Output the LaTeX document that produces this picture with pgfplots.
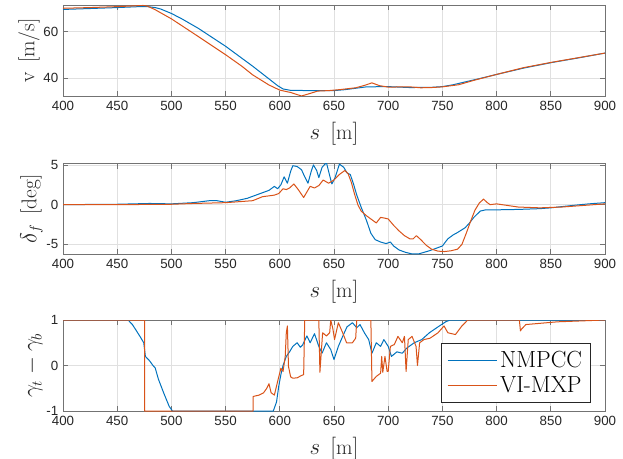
\documentclass[border=0pt]{standalone}
\usepackage{pgfplots}
\pgfplotsset{compat=1.18}
\usepackage{fontspec}
\newfontfamily\tickfont{Liberation Sans}
\definecolor{mblue}{rgb}{0,0.447,0.741}
\definecolor{morange}{rgb}{0.85,0.325,0.098}
\definecolor{maxis}{rgb}{0.15,0.15,0.15}
\pgfplotsset{
  mstyle/.style={
    scale only axis, width=406.5pt, height=68.25pt,
    anchor=north west,
    xmin=400, xmax=900, xtick={400,450,...,900},
    grid=major, major grid style={draw=black!12, line width=0.6pt},
    axis line style={draw=black!55, line width=0.6pt},
    tick style={draw=black!55, line width=0.6pt}, major tick length=4pt,
    tick label style={font=\tickfont\fontsize{10}{12}\selectfont, text=maxis},
    /pgf/number format/assume math mode=true,
    label style={font=\fontsize{16}{19}\selectfont, text=maxis},
    xlabel={$s\;\,[\mathrm{m}]$},
    xlabel style={yshift=-2pt},
    ylabel style={yshift=-4pt},
    every axis plot/.append style={line width=0.75pt, line join=round},
    scaled y ticks=false,
  }
}
\begin{document}
\begin{tikzpicture}
\useasboundingbox (0,0) rectangle (467.25pt,-344.25pt);
\begin{axis}[mstyle, at={(47.25pt,-3.75pt)}, ymin=32.5, ymax=71.3, ytick={40,60},
  ylabel={v\;\,[m/s]}]
\addplot[mblue] coordinates {(400,69.4)(425,69.8)(450,70.2)(470,70.6)(478,70.6)(485,70.2)(490,69.6)(500,67.7)(510,65.3)(525,61.3)(550,53.7)(575,45.2)(590,39.8)(598,36.9)(603,35.5)(610,34.9)(630,34.8)(650,34.8)(660,35.2)(670,35.8)(680,36.4)(700,36.5)(720,36.1)(740,36.2)(750,36.5)(760,37.3)(770,38.4)(785,40)(800,41.7)(825,44.4)(850,46.7)(875,48.7)(900,50.8)};
\addplot[morange] coordinates {(400,69.9)(425,70.2)(450,70.6)(474,71.1)(478,70.8)(485,69.3)(500,65.4)(525,57.8)(550,50.1)(565,45.2)(575,41.5)(590,37.2)(600,35.0)(610,34.0)(620,32.5)(628,33.6)(635,34.6)(645,34.8)(655,35.2)(670,36)(678,37)(685,38.1)(692,36.9)(700,36.3)(720,36.4)(730,36)(740,36.1)(750,36.4)(765,37.3)(780,39.3)(800,41.7)(825,44.6)(850,46.8)(875,48.8)(900,50.8)};
\end{axis}
\begin{axis}[mstyle, at={(47.25pt,-122.5pt)}, ymin=-6.25, ymax=5.2, ytick={-5,0,5},
  ylabel={$\delta_f$\;\,[deg]}]
\addplot[mblue] coordinates {(400,0)(450,0.05)(480,0.15)(500,0.1)(520,0.25)(535,0.5)(542,0.5)(550,0.3)(560,0.5)(570,0.8)(580,1.3)(590,1.8)(595,2.3)(598,2.0)(601,2.5)(604,3.5)(607,2.7)(610,4.2)(612,4.9)(616,4.8)(620,4.4)(623,3.5)(626,2.7)(629,4.2)(631,5.0)(634,4.3)(636,3.4)(639,4.7)(643,5.3)(645,4.2)(648,2.6)(651,3.4)(655,5.1)(659,4.7)(662,4.0)(665,3.8)(668,2.6)(671,1.2)(675,-0.3)(680,-2.0)(684,-3.6)(688,-4.4)(693,-4.7)(698,-4.9)(702,-4.7)(705,-5.2)(710,-5.7)(716,-6.0)(722,-6.2)(728,-6.2)(733,-6.0)(738,-5.8)(742,-5.6)(746,-5.4)(750,-5.2)(755,-4.3)(760,-3.8)(764,-3.5)(771,-2.9)(775,-2.3)(779,-1.6)(785,-0.8)(790,-0.65)(800,-0.65)(820,-0.6)(840,-0.5)(850,-0.4)(870,-0.1)(885,0.1)(900,0.25)};
\addplot[morange] coordinates {(400,0)(450,0)(500,0.05)(520,0.15)(550,0.25)(575,0.5)(584,1.0)(595,1.2)(599,1.4)(603,2.0)(606,1.9)(609,2.1)(613,2.6)(617,1.9)(620,1.3)(622,0.9)(625,1.6)(628,2.3)(632,2.1)(636,2.4)(640,3.1)(645,2.7)(650,3.1)(655,3.8)(660,4.3)(663,3.9)(666,2.8)(669,1.3)(672,0.0)(675,-0.8)(680,-1.4)(685,-1.9)(689,-2.3)(693,-1.6)(697,-1.7)(700,-1.8)(705,-2.6)(710,-3.3)(715,-3.9)(720,-4.3)(723,-4.3)(726,-3.9)(730,-4.4)(735,-5.1)(740,-5.6)(746,-5.85)(752,-5.9)(758,-5.8)(764,-5.6)(768,-5.0)(772,-3.6)(776,-2.1)(780,-0.7)(784,0.2)(788,0.7)(791,0.3)(794,0.0)(800,0.1)(810,-0.1)(820,-0.3)(840,-0.4)(860,-0.3)(880,-0.1)(900,0.1)};
\end{axis}
\begin{axis}[mstyle, at={(47.25pt,-240pt)}, ymin=-1, ymax=1, ytick={-1,0,1},
  ylabel={$\gamma_t-\gamma_b$},
  legend style={at={(1,0)}, anchor=south east, xshift=-10.5pt, yshift=6pt,
    font=\fontsize{17.5}{21}\selectfont, draw=maxis, line width=0.6pt,
    inner xsep=4.5pt, inner ysep=4pt, row sep=1.5pt},
  legend cell align=left,
  legend image code/.code={\draw[#1, line width=0.75pt] (0pt,0pt) -- (37pt,0pt);}]
\addplot[mblue] coordinates {(400,1)(460,1)(464,0.9)(467,0.79)(471,0.64)(474.5,0.5)(476,0.2)(480,0.1)(483,0.0)(485,-0.05)(488,-0.3)(493,-0.61)(498,-0.9)(501,-1)(594,-1)(597,-0.8)(599,-0.46)(601,-0.2)(603,0)(606,0.2)(609,0.3)(612,0.42)(616,0.5)(619,0.4)(621,0.45)(625,0.65)(628,0.5)(632,0.7)(636,0.42)(639,0.27)(643,0.5)(647,0.35)(650,0.13)(654,0.42)(658,0.64)(662,0.85)(667,0.94)(671,0.83)(674,0.9)(678,0.72)(682,0.57)(685,0.27)(689,0.5)(693,0.42)(696,0.57)(700,0.42)(703,0.2)(708,0.3)(713,0.27)(717,0.38)(724,0.5)(731,0.57)(738,0.72)(746,0.85)(753,0.96)(757,1)(900,1)};
\addlegendentry{NMPCC}
\addplot[morange] coordinates {(400,1)(475.2,1)(475.3,-1)(575.3,-1)(575.5,-0.68)(581,-0.65)(585,-0.6)(588,-0.5)(590,-0.4)(592,-0.6)(595,-0.65)(598,-0.35)(601,-0.06)(603,-0.13)(605,0.2)(606,0.72)(607,0.87)(608,-0.02)(610,-0.25)(612,-0.28)(616,-0.27)(620,-0.22)(622,-0.2)(623,1)(636,1)(637,-0.15)(639.5,0.72)(643,0.65)(646,0.72)(647,1)(649,0.8)(650.5,0.57)(654,0.94)(658,0.72)(661.6,0.5)(667,0.5)(670,0.6)(671,1)(684,1)(685,-0.35)(689,-0.24)(693,-0.17)(694,0.2)(695,-0.15)(697,0.2)(699,-0.13)(700,-0.13)(702,0.42)(705.6,0.46)(709,0.64)(713,0.5)(715,0.64)(716.5,-0.13)(718.5,0.57)(722,0.64)(725.7,0.42)(727,0)(729,0.5)(733,0.57)(738.6,0.6)(746,0.72)(751.5,0.87)(755,0.72)(762,0.68)(768,0.87)(773.4,1)(821,1)(822,0.76)(823,0.8)(827,0.9)(856,0.96)(900,1)};
\addlegendentry{VI-MXP}
\end{axis}
\end{tikzpicture}
\end{document}
